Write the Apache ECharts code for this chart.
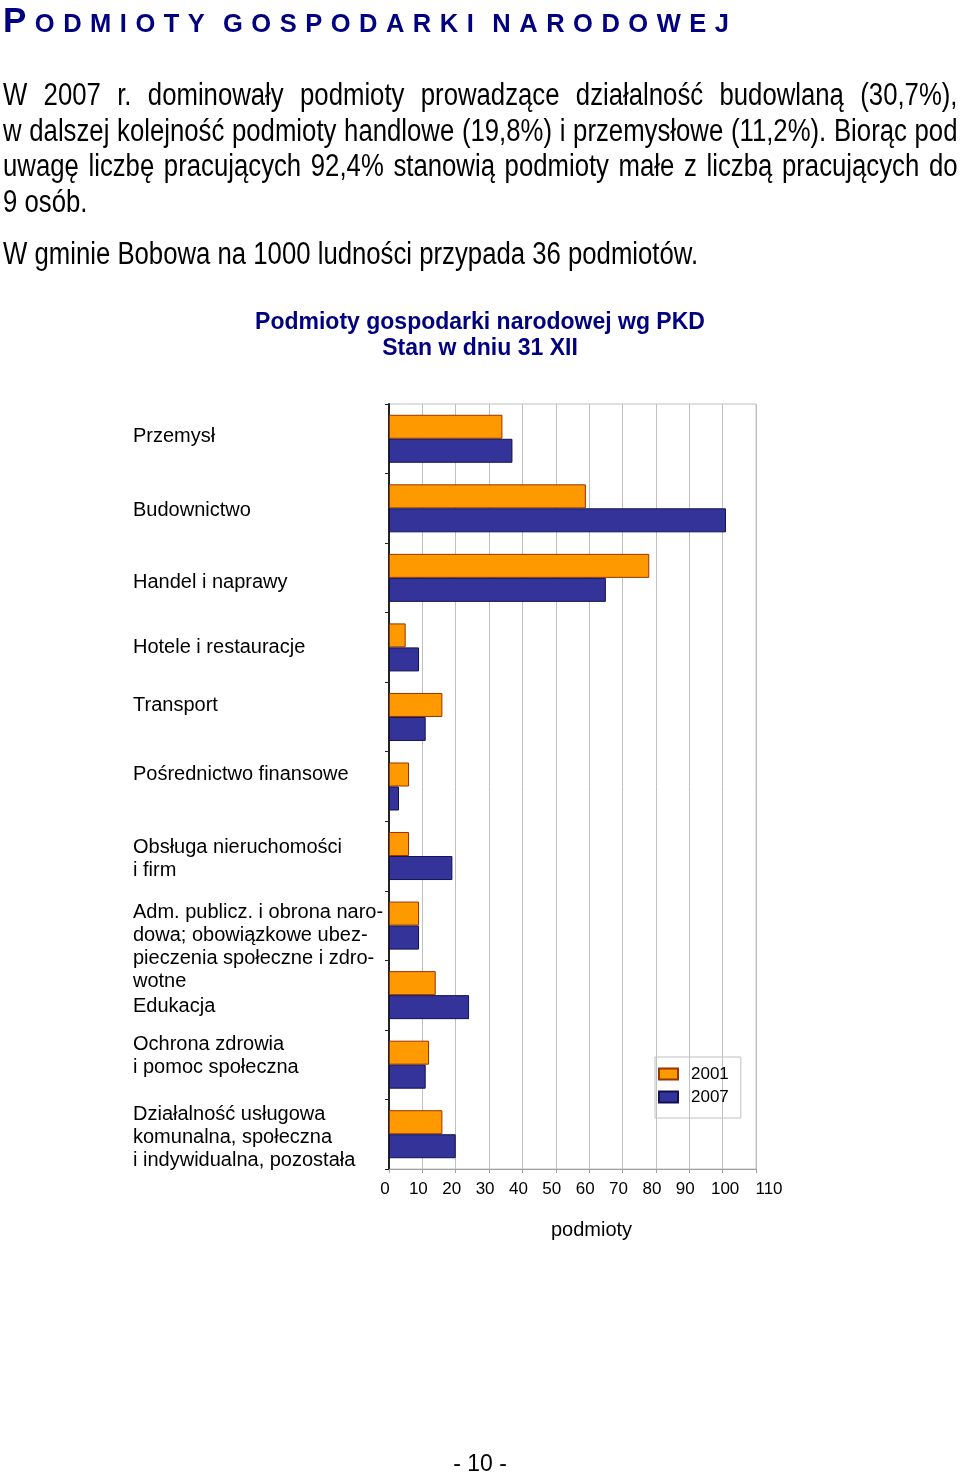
<!DOCTYPE html>
<html>
<head>
<meta charset="utf-8">
<script src="https://cdn.jsdelivr.net/npm/echarts@6/dist/echarts.min.js"></script>
<style>
  html, body { margin: 0; padding: 0; background: #fff; }
  body { width: 960px; height: 1473px; position: relative; overflow: hidden; }
  #chart { position: absolute; left: 0; top: 0; width: 960px; height: 1473px; }
  .txt { position: absolute; color: #000; white-space: nowrap; }
  #heading { left: 3px; top: 1px; font-family: "Liberation Sans", Arial, sans-serif; font-weight: bold; color: #000080; font-size: 25.5px; letter-spacing: 8.5px; word-spacing: -5.5px; line-height: 38px; }
  #heading .big { font-size: 35px; }
  .para { left: 3px; width: 1150px; font-family: "Liberation Sans", Arial, sans-serif; font-size: 31px; line-height: 35.5px; transform: scaleX(0.83); transform-origin: 0 0; }
  .para span { display: block; }
  .para span.j { text-align: justify; text-align-last: justify; }
  #p1 { top: 77px; }
  #p2 { top: 236px; }
  #pagenum { left: 0; width: 960px; text-align: center; top: 1450px; font-family: "Liberation Sans", Arial, sans-serif; font-size: 23px; line-height: 26px; }
</style>
</head>
<body>
<div id="chart"></div>
<div class="txt" id="heading"><span class="big">P</span>ODMIOTY GOSPODARKI NARODOWEJ</div>
<div class="txt para" id="p1"><span class="j">W 2007 r. dominowały podmioty prowadzące działalność budowlaną (30,7%), </span><span class="j">w dalszej kolejność podmioty handlowe (19,8%) i przemysłowe (11,2%). Biorąc pod </span><span class="j">uwagę liczbę pracujących 92,4% stanowią podmioty małe z liczbą pracujących do </span><span>9 osób.</span></div>
<div class="txt para" id="p2">W gminie Bobowa na 1000 ludności przypada 36 podmiotów.</div>
<div class="txt" id="pagenum">- 10 -</div>
<script>
const categories = [
  'Przemysł',
  'Budownictwo',
  'Handel i naprawy',
  'Hotele i restauracje',
  'Transport',
  'Pośrednictwo finansowe',
  'Obsługa nieruchomości\ni firm',
  'Adm. publicz. i obrona naro-\ndowa; obowiązkowe ubez-\npieczenia społeczne i zdro-\nwotne',
  'Edukacja',
  'Ochrona zdrowia\ni pomoc społeczna',
  'Działalność usługowa\nkomunalna, społeczna\ni indywidualna, pozostała'
];
const seriesNames = ['2001', '2007'];
const values2001 = [34, 59, 78, 5, 16, 6, 6, 9, 14, 12, 16];
const values2007 = [37, 101, 65, 9, 11, 3, 19, 9, 24, 11, 20];
const axisTitle = 'podmioty';
const chartTitle = 'Podmioty gospodarki narodowej wg PKD\nStan w dniu 31 XII';

// vertical shift (px) of each category label relative to its band centre
const labelShift = [-2, 2, 5, 0, -11, -12, 3, 21, 11, -9, 3];
const FONT = '"Liberation Sans", Arial, sans-serif';

const rich = {
  t: { fontSize: 20, lineHeight: 23, fontFamily: FONT, color: '#000' },
  xl: { fontSize: 17, fontFamily: FONT, color: '#000', padding: [0, 8, 0, 0] },
  xr: { fontSize: 17, fontFamily: FONT, color: '#000', padding: [0, 0, 0, 5] },
  xrr: { fontSize: 17, fontFamily: FONT, color: '#000', padding: [0, 0, 0, 26] }
};
labelShift.forEach((d, i) => {
  rich['s' + i] = { fontSize: 1, lineHeight: Math.max(1, Math.abs(d) * 2), fontFamily: FONT };
});

const chart = echarts.init(document.getElementById('chart'), null, { renderer: 'canvas' });
chart.setOption({
  backgroundColor: '#fff',
  animation: false,
  title: {
    text: chartTitle,
    left: 'center',
    top: 310,
    padding: 0,
    textStyle: { fontFamily: FONT, fontSize: 23, fontWeight: 'bold', lineHeight: 26, color: '#000080' }
  },
  legend: {
    data: seriesNames,
    orient: 'vertical',
    left: 655,
    top: 1057,
    padding: [6, 12, 10, 3],
    itemWidth: 19,
    itemHeight: 11,
    itemGap: 1,
    icon: 'rect',
    borderColor: '#c0c0c0',
    borderWidth: 1,
    textStyle: { fontFamily: FONT, fontSize: 17, lineHeight: 17, color: '#000', padding: [5, 0, 0, 8] }
  },
  grid: {
    left: 389, right: 204, top: 404, bottom: 304,
    show: true, borderColor: '#c0c0c0', borderWidth: 1, backgroundColor: 'transparent'
  },
  xAxis: {
    type: 'value',
    min: 0, max: 110, interval: 10,
    name: axisTitle,
    nameLocation: 'middle',
    nameGap: 51,
    nameTextStyle: { fontFamily: FONT, fontSize: 20, color: '#000', padding: [0, 0, 0, 38] },
    axisLine: { show: true, lineStyle: { color: '#a0a0a0', width: 1 } },
    axisTick: { show: true, length: 4, lineStyle: { color: '#a0a0a0' } },
    splitLine: { show: true, lineStyle: { color: '#c0c0c0', width: 1 } },
    axisLabel: {
      margin: 12,
      formatter: function (v) {
        const key = v === 110 ? 'xrr' : (v === 100 ? 'xr' : 'xl');
        return '{' + key + '|' + v + '}';
      },
      rich: rich
    }
  },
  yAxis: {
    type: 'category',
    data: categories,
    inverse: true,
    axisLine: { show: true, lineStyle: { color: '#222', width: 2 } },
    axisTick: { show: true, length: 4, lineStyle: { color: '#222' } },
    splitLine: { show: false },
    axisLabel: {
      interval: 0,
      align: 'left',
      margin: 256,
      formatter: function (value, idx) {
        const lines = value.split('\n').map(l => '{t|' + l + '}').join('\n');
        const d = labelShift[idx] || 0;
        if (d > 0) return '{s' + idx + '| }\n' + lines;
        if (d < 0) return lines + '\n{s' + idx + '| }';
        return lines;
      },
      rich: rich
    }
  },
  series: [
    {
      name: seriesNames[0],
      type: 'bar',
      data: values2001,
      barWidth: 24,
      barGap: '0%',
      itemStyle: { color: '#FF9900', borderColor: '#993300', borderWidth: 1 }
    },
    {
      name: seriesNames[1],
      type: 'bar',
      data: values2007,
      barWidth: 24,
      barGap: '0%',
      itemStyle: { color: '#333399', borderColor: '#111155', borderWidth: 1 }
    }
  ]
});
</script>
</body>
</html>
